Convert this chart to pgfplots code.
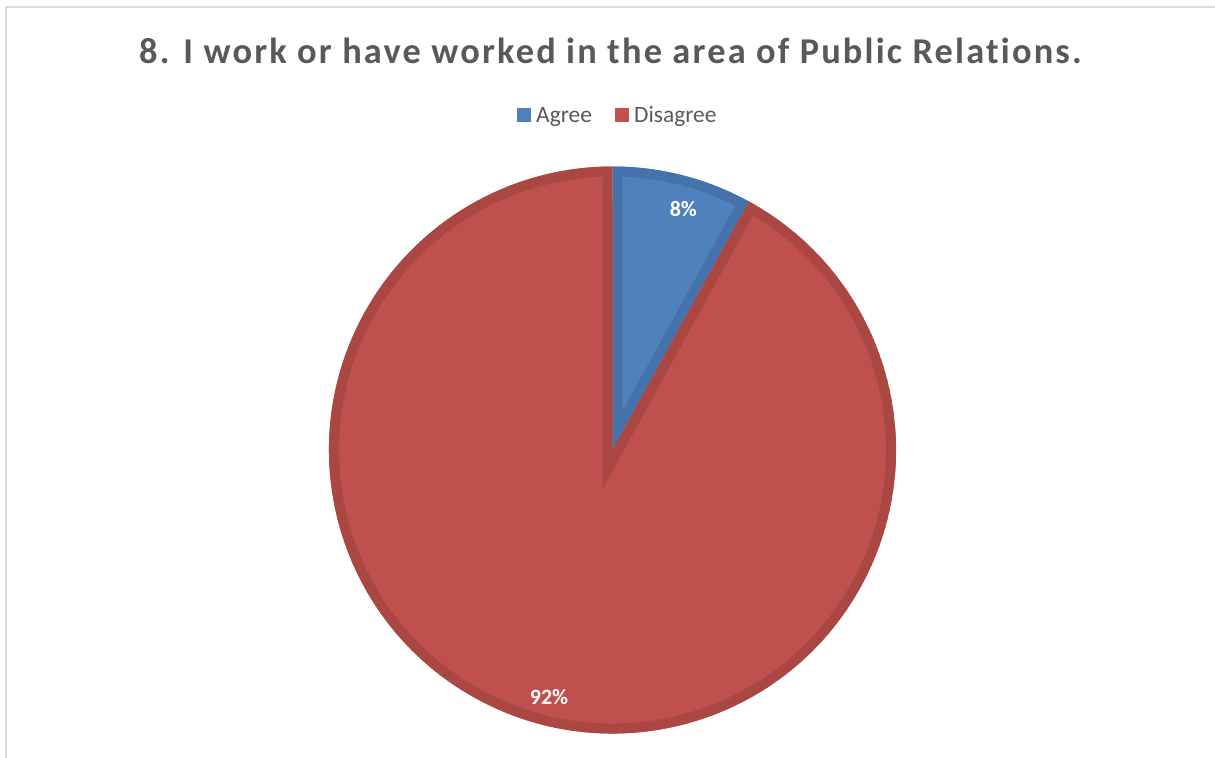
\documentclass[border=0pt]{standalone}
\usepackage{pgfplots}
\pgfplotsset{compat=1.18}
\usepackage{pgfplotstable}
\usetikzlibrary{calc}
\usepackage{fontspec}
\setmainfont{Carlito}
\newfontfamily\titlefont[LetterSpace=6.0, Ligatures=NoCommon]{Carlito}

\definecolor{agreefill}{HTML}{4F81BD}
\definecolor{agreeedge}{HTML}{4572AA}
\definecolor{disfill}{HTML}{C0504D}
\definecolor{disedge}{HTML}{AA4743}
\definecolor{titlegray}{HTML}{595959}
\definecolor{framegray}{HTML}{D9D9D9}

\pgfplotstableread{
label value
Agree 8
Disagree 92
}\pietable

\pgfplotstablegetelem{0}{value}\of\pietable \edef\valA{\pgfplotsretval}
\pgfplotstablegetelem{1}{value}\of\pietable \edef\valB{\pgfplotsretval}

% pie geometry (in bp)
\def\cx{612.5}
\def\cy{308}
\def\R{283.5}

% one slice: filled, with an inner border produced by a clipped wide stroke
\newcommand{\slice}[4]{%
  \begin{scope}
    \clip (axis cs:\cx,\cy) -- ++(#1:\R bp) arc[start angle=#1, end angle=#2, radius=\R bp] -- cycle;
    \filldraw[fill=#3, draw=#4, line width=20bp, miter limit=10]
      (axis cs:\cx,\cy) -- ++(#1:\R bp) arc[start angle=#1, end angle=#2, radius=\R bp] -- cycle;
  \end{scope}}

\begin{document}
\begin{tikzpicture}
\useasboundingbox (0,0) rectangle (1215bp,758bp);
\begin{axis}[
  anchor=origin, at={(0,0)},
  x=1bp, y=1bp,
  xmin=0, xmax=1215, ymin=0, ymax=758,
  hide axis, clip=false,
]
\pgfmathsetmacro{\aStart}{90}
\pgfmathsetmacro{\aMid}{90-3.6*\valA}
\pgfmathsetmacro{\aEnd}{90-3.6*(\valA+\valB)}

\slice{\aStart}{\aMid}{agreefill}{agreeedge}
\slice{\aMid}{\aEnd}{disfill}{disedge}

% data labels near the middle of each slice
\pgfmathsetmacro{\mA}{(\aStart+\aMid)/2-2}
\pgfmathsetmacro{\mB}{(\aMid+\aEnd)/2}
\node[text=white, font=\bfseries\fontsize{22}{22}\selectfont]
  at ($(axis cs:\cx,\cy)+(\mA:0.885*\R bp)$) {\valA\%};
\node[text=white, font=\bfseries\fontsize{22}{22}\selectfont]
  at ($(axis cs:\cx,\cy)+(\mB:0.9*\R bp)$) {\valB\%};

% chart frame
\draw[framegray, line width=2bp] (axis cs:6.5,0) -- (axis cs:6.5,750.5) -- (axis cs:1215,750.5);

% title
\node[anchor=base, text=titlegray, font=\titlefont\bfseries\fontsize{36.5}{36.5}\selectfont]
  at (axis cs:610.5,694) {8. I work or have worked in the area of Public Relations.};

% legend
\fill[agreefill] (axis cs:517,636) rectangle (axis cs:531,650);
\node[anchor=base west, text=titlegray, inner sep=0pt, font=\fontsize{23.5}{23.5}\selectfont]
  at (axis cs:536,635) {Agree};
\fill[disfill] (axis cs:615,636) rectangle (axis cs:629,650);
\node[anchor=base west, text=titlegray, inner sep=0pt, font=\fontsize{23.5}{23.5}\selectfont]
  at (axis cs:634,635) {Disagree};
\end{axis}
\end{tikzpicture}
\end{document}
